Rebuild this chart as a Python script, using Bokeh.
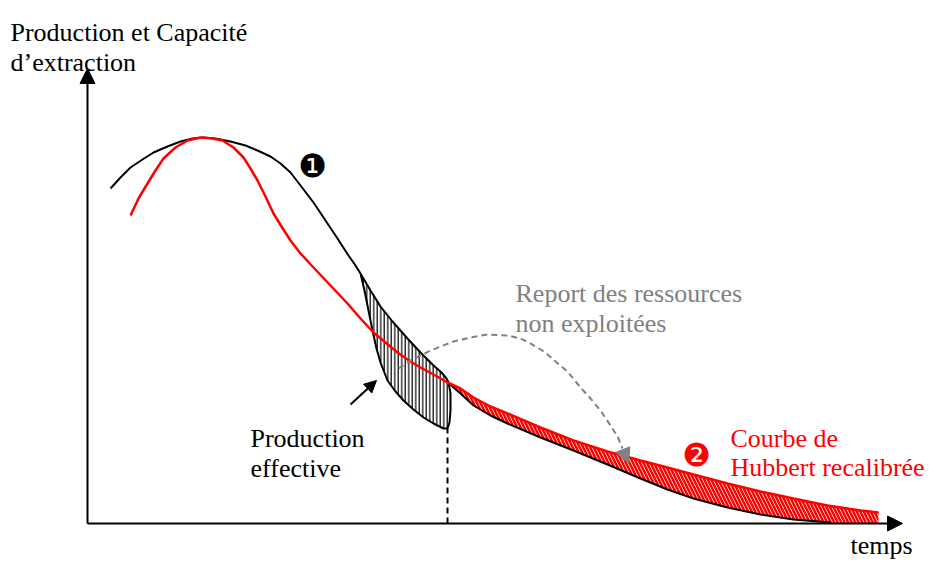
from bokeh.plotting import figure
from bokeh.models import Range1d, Arrow, NormalHead, ColumnDataSource
from bokeh.core.properties import value
from bokeh.embed import file_html
from bokeh.resources import INLINE

# ---- data (arbitrary units: time t, production P) ----
cap_t = [23, 33, 43, 55, 66, 80, 93, 105, 116, 128, 143, 158, 170, 183, 193, 203, 213, 226, 238, 250, 261, 268, 273]
cap_p = [335, 346, 356, 364, 371, 377, 382, 385, 386, 385, 382, 378, 373, 367, 360, 351, 338, 321, 303, 285, 268, 258, 250]

prod_up_t = [273, 283, 293, 305, 320, 333, 345, 354, 359, 361, 363, 363, 362, 360]
prod_up_p = [250, 233, 217, 202, 185, 171, 159, 151, 145, 141, 130, 113, 101, 95]

prod_low_t = [273, 277, 281, 285, 289, 293, 300, 308, 316, 326, 336, 346, 356, 360]
prod_low_p = [250, 233, 213, 193, 175, 161, 143, 132, 123, 114, 106, 100, 95, 95]

cap2_t = [361, 366, 373, 386, 403, 420, 453, 486, 520, 553, 580, 606, 640, 673, 706, 743]
cap2_p = [141, 136, 130, 118, 108, 100, 86, 73, 59, 45, 34, 25, 16, 9, 4, 1]

hub_t = [43, 51, 60, 68, 76, 88, 100, 113, 125, 135, 146, 156, 163, 170, 178, 186, 194, 203, 213, 226,
         243, 260, 273, 286, 298, 310, 323, 333, 346, 360, 373, 386, 403, 420, 453, 486, 520, 553, 580,
         606, 640, 673, 706, 740, 773, 791]
hub_p = [308, 325, 340, 353, 365, 376, 383, 386, 385, 383, 376, 366, 355, 343, 327, 310, 297, 283, 270, 256,
         238, 220, 205, 191, 181, 171, 162, 156, 149, 141, 135, 126, 117, 110, 96, 83, 72, 63, 56,
         49, 40, 32, 25, 18, 13, 11]

report_t = [311, 323, 343, 366, 383, 400, 420, 433, 443, 458, 468, 480, 493, 503, 513, 523, 530, 535]
report_p = [155, 163, 173, 182, 186, 189, 188, 185, 180, 171, 162, 152, 136, 125, 113, 98, 87, 75]
report_tip = (541, 60)

t_cut = 360
t_axis_end = 815
p_axis_end = 455

labels = ["Production et Capacité", "d\u2019extraction", "Report des ressources", "non exploitées",
          "Production", "effective", "Courbe de", "Hubbert recalibrée", "temps"]
label_t = [-77, -77, 428, 428, 163, 163, 643, 643, 763]
label_p = [491, 461, 230, 200, 85, 55, 85, 56, -22]
label_col = ["black", "black", "#808080", "#808080", "black", "black", "red", "red", "black"]

marks = ["\u2776", "\u2777"]
mark_t = [225, 609]
mark_p = [358, 69]
mark_col = ["black", "red"]

# ---- figure ----
p = figure(width=929, height=563, output_backend="svg", toolbar_location=None,
           x_range=Range1d(-87, 842), y_range=Range1d(-40, 523),
           x_axis_type=None, y_axis_type=None, min_border=0)
p.grid.visible = False
p.outline_line_color = None
p.background_fill_color = "white"

# production effective region (hatched grey)
reg_t = prod_up_t + prod_low_t[::-1]
reg_p = prod_up_p + prod_low_p[::-1]
p.patch(reg_t, reg_p, fill_color="white", hatch_pattern="vertical_line", hatch_color="black",
        hatch_scale=3.5, hatch_weight=1.2, line_color="black", line_width=2)

# red hatched region between recalibrated Hubbert and capacity
ht = [t for t in hub_t if t >= t_cut]
hp = [v for t, v in zip(hub_t, hub_p) if t >= t_cut]
red_t = ht + [ht[-1], cap2_t[-1]] + cap2_t[::-1]
red_p = hp + [0, 0] + cap2_p[::-1]
p.patch(red_t, red_p, fill_color="white", hatch_pattern="left_diagonal_line", hatch_color="red",
        hatch_scale=7, hatch_weight=2.5, line_color=None)

# curves
p.line(cap_t, cap_p, line_color="black", line_width=2)
p.line(cap2_t, cap2_p, line_color="black", line_width=2)
p.line(hub_t, hub_p, line_color="red", line_width=2.5)

# vertical dashed cut
p.line([t_cut, t_cut], [0, prod_low_p[-1]], line_color="black", line_width=2, line_dash="6 4")

# report arc
p.line(report_t, report_p, line_color="#808080", line_width=2, line_dash="6 4")
p.add_layout(Arrow(end=NormalHead(size=15, fill_color="#808080", line_color="#808080"),
                   x_start=report_t[-1], y_start=report_p[-1], x_end=report_tip[0], y_end=report_tip[1],
                   line_alpha=0))

# production effective pointer
p.add_layout(Arrow(end=NormalHead(size=12, fill_color="black", line_color="black"),
                   x_start=263, y_start=119, x_end=289, y_end=143, line_width=2))

# axes
p.add_layout(Arrow(end=NormalHead(size=15, fill_color="black", line_color="black"),
                   x_start=0, y_start=0, x_end=0, y_end=p_axis_end, line_width=2))
p.add_layout(Arrow(end=NormalHead(size=15, fill_color="black", line_color="black"),
                   x_start=0, y_start=0, x_end=t_axis_end, y_end=0, line_width=2))

# labels
src = ColumnDataSource(dict(x=label_t, y=label_p, text=labels, c=label_col))
p.text(x="x", y="y", text="text", text_color="c", source=src, text_font=value("Liberation Serif"),
       text_font_size="26px", text_baseline="alphabetic", text_align="left")

msrc = ColumnDataSource(dict(x=mark_t, y=mark_p, text=marks, c=mark_col))
p.text(x="x", y="y", text="text", text_color="c", source=msrc, text_font=value("DejaVu Sans"),
       text_font_size="32px", text_baseline="middle", text_align="center")

open("out.html", "w").write(file_html(p, INLINE))
